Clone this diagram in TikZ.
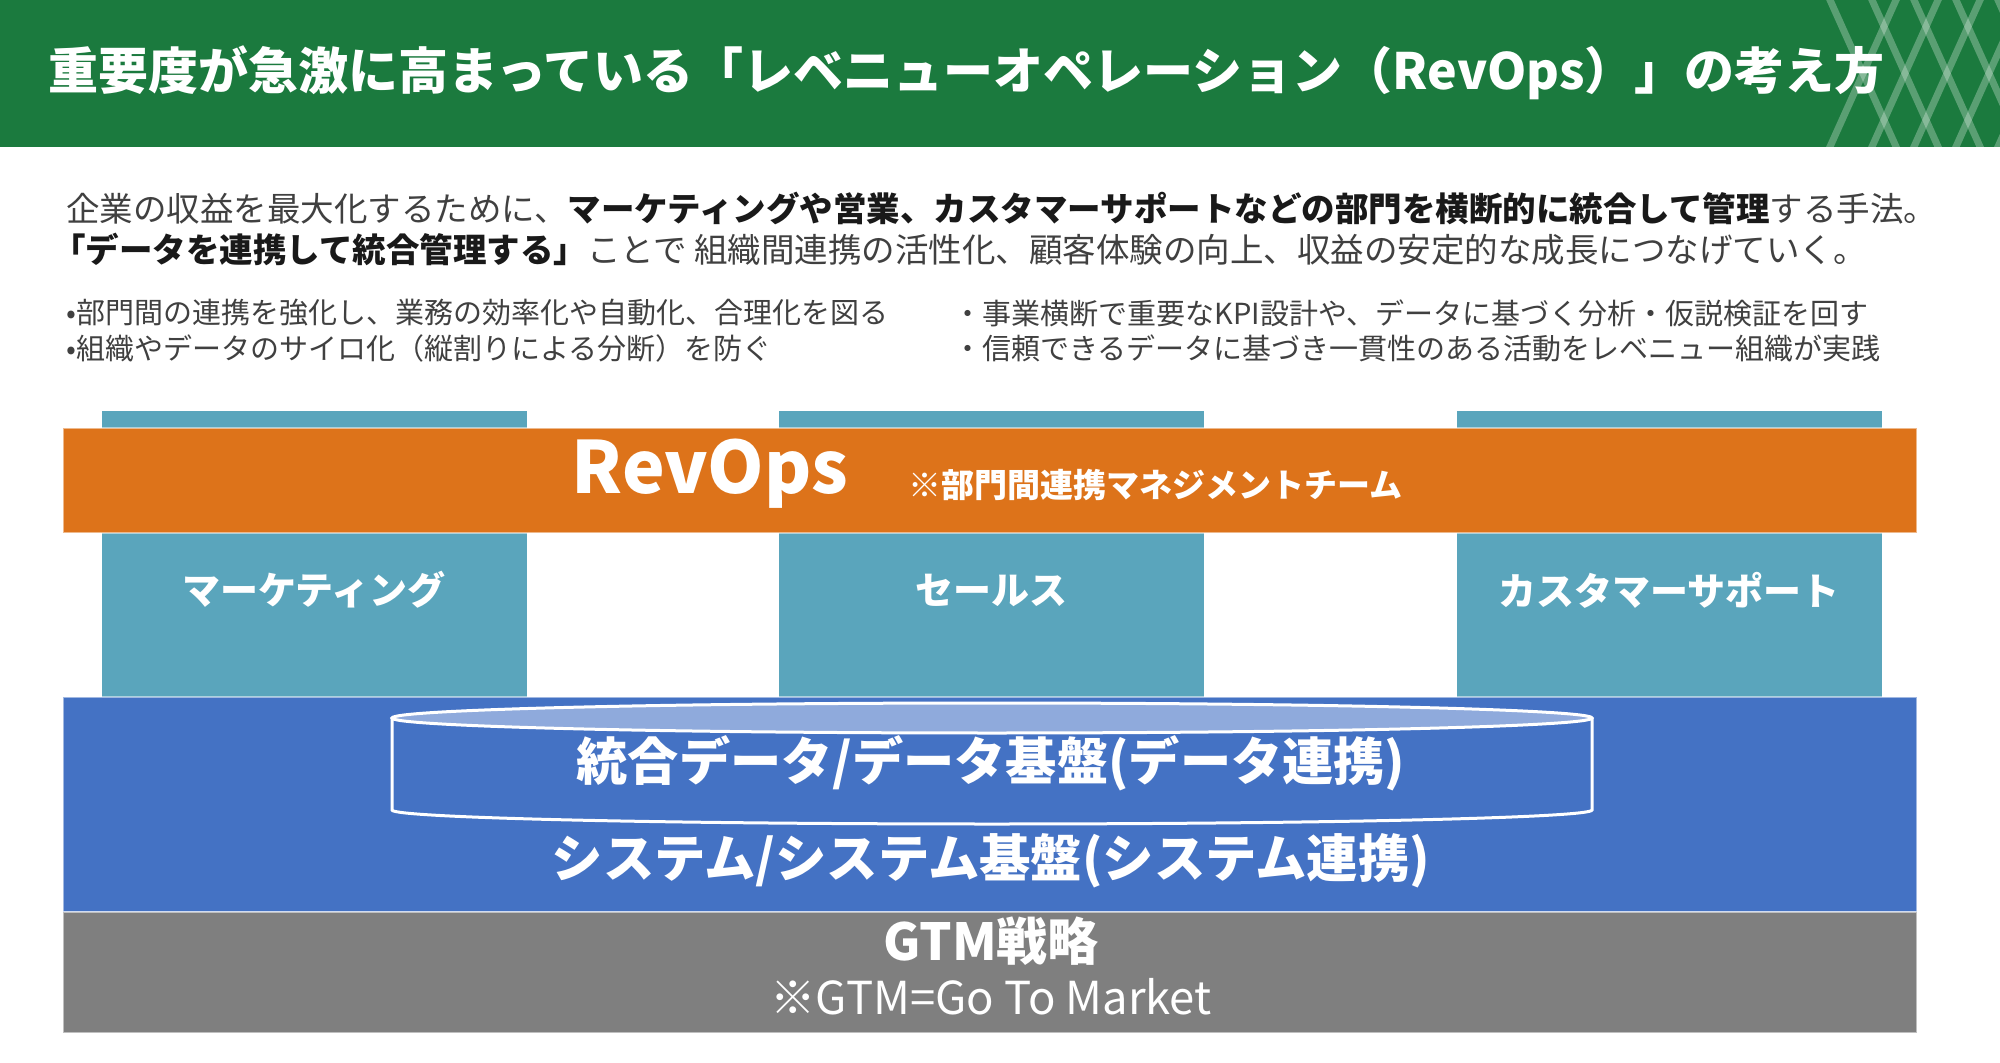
\documentclass[tikz,border=0pt]{standalone}
\usepackage{fontspec}
\setmainfont{Noto Sans CJK JP}
\definecolor{hdrgreen}{RGB}{27,122,62}
\definecolor{colteal}{RGB}{90,165,188}
\definecolor{colorange}{RGB}{221,115,26}
\definecolor{colblue}{RGB}{68,114,196}
\definecolor{colgray}{RGB}{127,127,127}
\definecolor{collight}{RGB}{143,170,220}
\definecolor{txtgray}{RGB}{64,64,64}
\definecolor{txtdark}{RGB}{25,25,25}
\tikzset{
  latt/.style={draw=white, draw opacity=0.28, line width=3.5pt},
  band/.style={draw=white, draw opacity=0.5, line width=0.6pt},
  colbox/.style={fill=colteal},
  wtxt/.style={text=white, inner sep=0pt, font=\bfseries},
  para/.style={anchor=west, inner sep=0pt, font=\fontsize{16.75}{20}\selectfont},
  bullet/.style={anchor=west, inner sep=0pt, text=txtgray, font=\fontsize{14.5}{18}\selectfont},
}
\begin{document}
\begin{tikzpicture}[x=0.5pt, y=-0.5pt]
\useasboundingbox (0,0) rectangle (2000,1063);
\fill[white] (0,0) rectangle (2000,1063);
% header
\fill[hdrgreen] (0,0) rectangle (2000,147);
\begin{scope}
\clip (0,0) rectangle (2000,147);
\foreach \i in {0,...,4}{
  \draw[latt] ({1830+42*\i-4.5},-10) -- ({1830+42*\i+70.65},157);
  \draw[latt] ({1896+42*\i+4.5},-10) -- ({1896+42*\i-70.65},157);
}
\end{scope}
\node[wtxt, anchor=west, font=\bfseries\fontsize{25}{30}\selectfont] (title) at (48,73)
  {重要度が急激に高まっている「レベニューオペレーション（RevOps）」の考え方};
% paragraph
\node[para] (p1) at (66,208)
  {{\color{txtgray}企業の収益を最大化するために、}{\bfseries\color{txtdark}マーケティングや営業、カスタマーサポートなどの部門を横断的に統合して管理}{\color{txtgray}する手法。}};
\node[para] (p2) at (52,249)
  {{\bfseries\color{txtdark}「データを連携して統合管理する」}{\color{txtgray}ことで 組織間連携の活性化、顧客体験の向上、収益の安定的な成長につなげていく。}};
% bullets
\node[bullet] (b1) at (66,313) {•部門間の連携を強化し、業務の効率化や自動化、合理化を図る};
\node[bullet] (b2) at (66,348) {•組織やデータのサイロ化（縦割りによる分断）を防ぐ};
\node[bullet] (b3) at (953,313) {・事業横断で重要なKPI設計や、データに基づく分析・仮説検証を回す};
\node[bullet] (b4) at (953,348) {・信頼できるデータに基づき一貫性のある活動をレベニュー組織が実践};
% columns
\fill[colbox] (102,411) rectangle (527,697);
\fill[colbox] (779,411) rectangle (1204,697);
\fill[colbox] (1457,411) rectangle (1882,697);
\node[wtxt, font=\bfseries\fontsize{19}{22}\selectfont] (c1) at (314,590) {マーケティング};
\node[wtxt, font=\bfseries\fontsize{19}{22}\selectfont] (c2) at (991,590) {セールス};
\node[wtxt, font=\bfseries\fontsize{19}{22}\selectfont] (c3) at (1669,590) {カスタマーサポート};
% RevOps band
\path[band, fill=colorange] (63,428) rectangle (1917,533);
\node[wtxt, font=\bfseries\fontsize{36}{40}\selectfont] (revops) at (710,474) {RevOps};
\node[wtxt, anchor=west, font=\bfseries\fontsize{16.5}{20}\selectfont] (team) at (908,485) {※部門間連携マネジメントチーム};
% blue band
\path[band, fill=colblue] (63,697) rectangle (1917,912);
% cylinder
\draw[white, line width=1.5pt] (392,718) -- (392,810)
  arc[start angle=180, end angle=0, x radius=600, y radius=14] -- (1592,718);
\draw[white, line width=1.5pt, fill=collight] (992,718) ellipse [x radius=600, y radius=15];
\node[wtxt, font=\bfseries\fontsize{25.6}{30}\selectfont] (data) at (991,763) {統合データ/データ基盤(データ連携)};
\node[wtxt, font=\bfseries\fontsize{25.7}{30}\selectfont] (sys) at (991,861) {システム/システム基盤(システム連携)};
% gray band
\path[band, fill=colgray] (63,912) rectangle (1917,1033);
\node[wtxt, font=\bfseries\fontsize{25.5}{30}\selectfont] (gtm) at (991,941) {GTM戦略};
\node[text=white, inner sep=0pt, font=\fontsize{22.7}{26}\selectfont] (gtmnote) at (991,997) {※GTM=Go To Market};
\end{tikzpicture}
\end{document}
